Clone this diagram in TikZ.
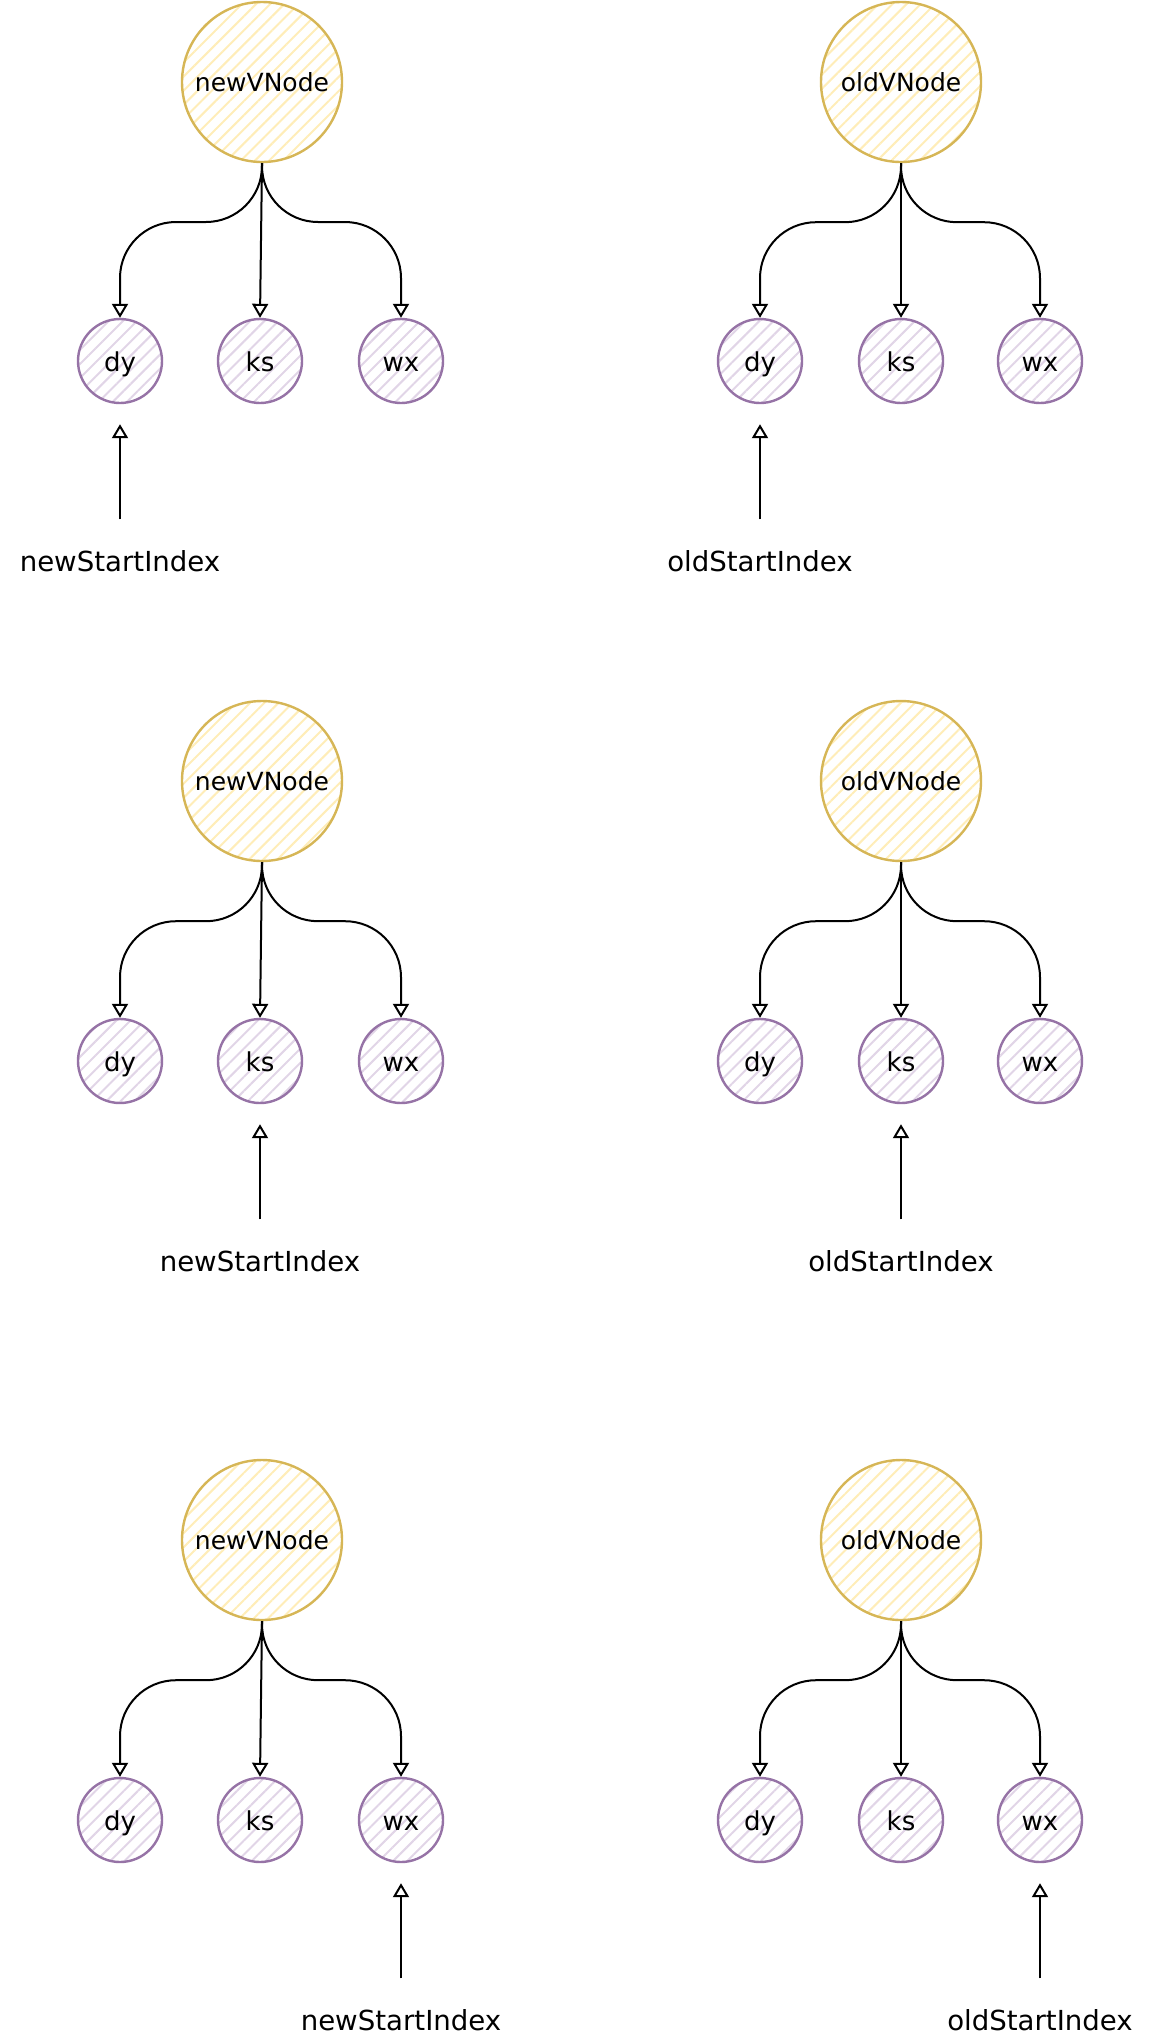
\documentclass[tikz,border=0pt]{standalone}
\usepackage{fontspec}
\setmainfont{DejaVu Sans}
\usepackage{xcolor}
\usepackage{tikz}
\usetikzlibrary{arrows.meta,patterns.meta}
\definecolor{rootline}{HTML}{D6B656}
\definecolor{rootfill}{HTML}{FFEDB8}
\definecolor{kidline}{HTML}{9673A6}
\definecolor{kidfill}{HTML}{E1D5E7}

\begin{document}
\begin{tikzpicture}[x=0.5pt,y=-0.5pt,
    vroot/.style={circle, draw=rootline, line width=1.2pt, minimum size=80pt, inner sep=0pt,
        pattern={Lines[angle=45,distance=5pt,line width=1pt]}, pattern color=rootfill,
        font=\fontsize{12.5}{15}\selectfont},
    vkid/.style={circle, draw=kidline, line width=1.2pt, minimum size=42pt, inner sep=0pt,
        pattern={Lines[angle=45,distance=5pt,line width=1pt]}, pattern color=kidfill,
        text height=10pt, text depth=0pt, font=\fontsize{13}{15}\selectfont},
    branch/.style={-{Triangle[open,length=7pt,width=8pt]}, line width=1pt, rounded corners=28pt},
    pointer/.style={-{Triangle[open,length=7pt,width=8pt]}, line width=1pt, shorten <=12pt, shorten >=10pt},
    idxlabel/.style={font=\fontsize{13.8}{16}\selectfont}]
    \useasboundingbox (0,0) rectangle (1152,2042);

    % row 1
    \node[vroot] (n1) at (262,82) {newVNode};
    \node[vkid] (n1dy) at (120,361) {dy};
    \node[vkid] (n1ks) at (260,361) {ks};
    \node[vkid] (n1wx) at (401,361) {wx};
    \draw[branch] (n1.south) -- ++(0,59) -| (n1dy.north);
    \draw[branch] (n1.south) -- (n1ks.north);
    \draw[branch] (n1.south) -- ++(0,59) -| (n1wx.north);
    \node[idxlabel] (n1idx) at (120,561) {newStartIndex};
    \draw[pointer] (n1idx.north) -- (n1dy.south);

    \node[vroot] (o1) at (901,82) {oldVNode};
    \node[vkid] (o1dy) at (760,361) {dy};
    \node[vkid] (o1ks) at (901,361) {ks};
    \node[vkid] (o1wx) at (1040,361) {wx};
    \draw[branch] (o1.south) -- ++(0,59) -| (o1dy.north);
    \draw[branch] (o1.south) -- (o1ks.north);
    \draw[branch] (o1.south) -- ++(0,59) -| (o1wx.north);
    \node[idxlabel] (o1idx) at (760,561) {oldStartIndex};
    \draw[pointer] (o1idx.north) -- (o1dy.south);

    % row 2
    \node[vroot] (n2) at (262,781) {newVNode};
    \node[vkid] (n2dy) at (120,1061) {dy};
    \node[vkid] (n2ks) at (260,1061) {ks};
    \node[vkid] (n2wx) at (401,1061) {wx};
    \draw[branch] (n2.south) -- ++(0,59) -| (n2dy.north);
    \draw[branch] (n2.south) -- (n2ks.north);
    \draw[branch] (n2.south) -- ++(0,59) -| (n2wx.north);
    \node[idxlabel] (n2idx) at (260,1261) {newStartIndex};
    \draw[pointer] (n2idx.north) -- (n2ks.south);

    \node[vroot] (o2) at (901,781) {oldVNode};
    \node[vkid] (o2dy) at (760,1061) {dy};
    \node[vkid] (o2ks) at (901,1061) {ks};
    \node[vkid] (o2wx) at (1040,1061) {wx};
    \draw[branch] (o2.south) -- ++(0,59) -| (o2dy.north);
    \draw[branch] (o2.south) -- (o2ks.north);
    \draw[branch] (o2.south) -- ++(0,59) -| (o2wx.north);
    \node[idxlabel] (o2idx) at (901,1261) {oldStartIndex};
    \draw[pointer] (o2idx.north) -- (o2ks.south);

    % row 3
    \node[vroot] (n3) at (262,1540) {newVNode};
    \node[vkid] (n3dy) at (120,1820) {dy};
    \node[vkid] (n3ks) at (260,1820) {ks};
    \node[vkid] (n3wx) at (401,1820) {wx};
    \draw[branch] (n3.south) -- ++(0,59) -| (n3dy.north);
    \draw[branch] (n3.south) -- (n3ks.north);
    \draw[branch] (n3.south) -- ++(0,59) -| (n3wx.north);
    \node[idxlabel] (n3idx) at (401,2020) {newStartIndex};
    \draw[pointer] (n3idx.north) -- (n3wx.south);

    \node[vroot] (o3) at (901,1540) {oldVNode};
    \node[vkid] (o3dy) at (760,1820) {dy};
    \node[vkid] (o3ks) at (901,1820) {ks};
    \node[vkid] (o3wx) at (1040,1820) {wx};
    \draw[branch] (o3.south) -- ++(0,59) -| (o3dy.north);
    \draw[branch] (o3.south) -- (o3ks.north);
    \draw[branch] (o3.south) -- ++(0,59) -| (o3wx.north);
    \node[idxlabel] (o3idx) at (1040,2020) {oldStartIndex};
    \draw[pointer] (o3idx.north) -- (o3wx.south);
\end{tikzpicture}
\end{document}
